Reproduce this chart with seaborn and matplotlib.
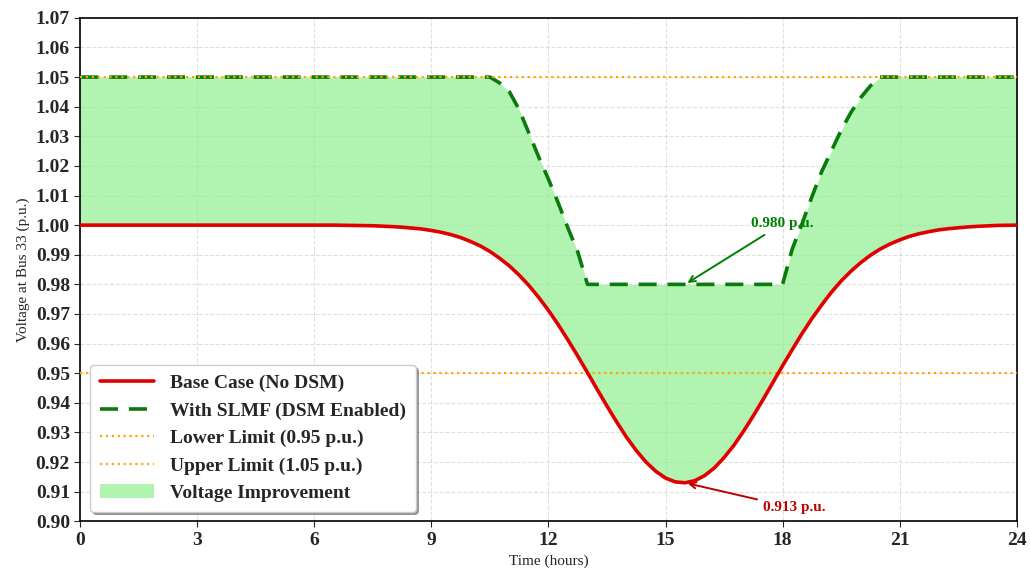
import numpy as np
import pandas as pd
import matplotlib
matplotlib.use("Agg")
import matplotlib.pyplot as plt
import seaborn as sns

# hours: half-hour steps outside the dip, quarter-hour steps from 8 to 23
hours = [i * 0.5 for i in range(16)] + [8 + i * 0.25 for i in range(61)] + [23.5, 24.0]

# voltage at bus 33, base case (no DSM)
base_case = [1.000] * 14 + [0.9999, 0.9998] + [
    0.9995, 0.9993, 0.9990, 0.9987, 0.9982, 0.9976, 0.9968, 0.9958, 0.9945, 0.9930,
    0.9911, 0.9888, 0.9862, 0.9831, 0.9796, 0.9756, 0.9712, 0.9664, 0.9612, 0.9558,
    0.9502, 0.9445, 0.9389, 0.9335, 0.9284, 0.9239, 0.9200, 0.9169, 0.9146, 0.9133,
    0.9130, 0.9137, 0.9154, 0.9180, 0.9215, 0.9256, 0.9304, 0.9356, 0.9411, 0.9468,
    0.9525, 0.9580, 0.9634, 0.9684, 0.9730, 0.9773, 0.9811, 0.9844, 0.9873, 0.9898,
    0.9919, 0.9936, 0.9950, 0.9962, 0.9971, 0.9978, 0.9984, 0.9988, 0.9991, 0.9994,
    0.9996,
] + [0.9999, 1.000]

# voltage with SLMF (DSM enabled)
with_slmf = [1.050] * 27 + [
    1.048, 1.045, 1.039, 1.031, 1.023, 1.0155, 1.0075, 0.999, 0.991, 0.980,
] + [0.980] * 19 + [
    0.980, 0.992, 1.0005, 1.0095, 1.018, 1.025, 1.032, 1.038, 1.043, 1.047, 1.050,
] + [1.050] * 12

lower_limit = 0.95
upper_limit = 1.05
min_base = 0.913
min_slmf = 0.980

df = pd.DataFrame({"hour": hours, "base": base_case, "slmf": with_slmf})

sns.set_style("ticks")
plt.rcParams["font.family"] = ["Liberation Serif", "DejaVu Serif"]

fig, ax = plt.subplots(figsize=(10.3, 5.76), dpi=100)

sns.lineplot(data=df, x="hour", y="base", ax=ax, color="#e00000", lw=2.6,
             label="Base Case (No DSM)", zorder=4)
sns.lineplot(data=df, x="hour", y="slmf", ax=ax, color="#0a7a0a", lw=2.6,
             linestyle=(0, (5, 3)), label="With SLMF (DSM Enabled)", zorder=4)
ax.axhline(lower_limit, color="orange", linestyle=":", lw=1.6,
           label="Lower Limit (0.95 p.u.)", zorder=3)
ax.axhline(upper_limit, color="orange", linestyle=":", lw=1.6,
           label="Upper Limit (1.05 p.u.)", zorder=5)
ax.fill_between(df["hour"], df["base"], df["slmf"], color="lightgreen",
                alpha=0.7, label="Voltage Improvement", zorder=1, lw=0)

# annotations
ax.annotate(f"{min_slmf:.3f} p.u.", xy=(15.5, min_slmf), xytext=(17.2, 1.0005),
            color="green", fontsize=11, fontweight="bold", va="center",
            arrowprops=dict(arrowstyle="->", color="green", lw=1.4))
ax.annotate(f"{min_base:.3f} p.u.", xy=(15.5, min_base), xytext=(17.5, 0.9045),
            color="#c00000", fontsize=11, fontweight="bold", va="center",
            arrowprops=dict(arrowstyle="->", color="#c00000", lw=1.4))

ax.set_xlim(0, 24)
ax.set_ylim(0.90, 1.07)
ax.set_xticks(range(0, 25, 3))
ax.set_yticks(np.arange(0.90, 1.0701, 0.01))
ax.yaxis.set_major_formatter(matplotlib.ticker.FormatStrFormatter("%.2f"))
ax.tick_params(labelsize=14, length=4)
for lab in ax.get_xticklabels() + ax.get_yticklabels():
    lab.set_fontweight("bold")

ax.grid(True, linestyle="--", color="#cccccc", alpha=0.6, lw=0.8)
ax.set_axisbelow(True)
for sp in ax.spines.values():
    sp.set_visible(True)
    sp.set_color("black")
    sp.set_linewidth(1.2)

ax.set_xlabel("Time (hours)", fontsize=11)
ax.set_ylabel("Voltage at Bus 33 (p.u.)", fontsize=11)

leg = ax.legend(loc="lower left", fontsize=14, frameon=True, fancybox=True,
                shadow=True, handlelength=2.8, borderpad=0.5, labelspacing=0.5,
                bbox_to_anchor=(0.0, 0.0))
for t in leg.get_texts():
    t.set_fontweight("bold")

fig.subplots_adjust(left=0.078, right=0.987, top=0.969, bottom=0.095)
fig.savefig("out.png", dpi=100)
